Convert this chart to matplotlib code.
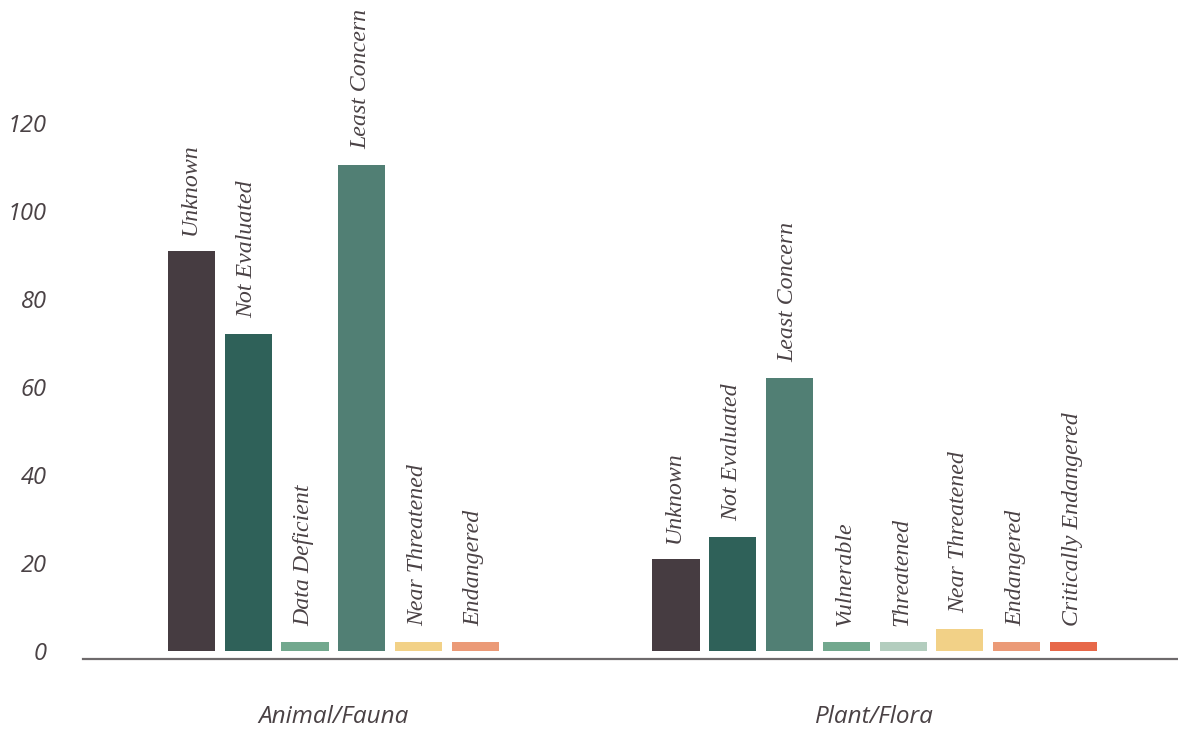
import matplotlib

matplotlib.use("Agg")
import matplotlib.pyplot as plt

# data
groups = ["Animal/Fauna", "Plant/Flora"]
animal_labels = ["Unknown", "Not Evaluated", "Data Deficient", "Least Concern",
                 "Near Threatened", "Endangered"]
animal_values = [91, 72, 2, 110.5, 2, 2]
plant_labels = ["Unknown", "Not Evaluated", "Least Concern", "Vulnerable",
                "Threatened", "Near Threatened", "Endangered", "Critically Endangered"]
plant_values = [21, 26, 62, 2, 2, 5, 2, 2]
yticks = [0, 20, 40, 60, 80, 100, 120]

colors = {
    "Unknown": "#463c41",
    "Not Evaluated": "#2f6159",
    "Least Concern": "#517f74",
    "Data Deficient": "#72a88e",
    "Vulnerable": "#72a88e",
    "Threatened": "#b3cdbe",
    "Near Threatened": "#f2d187",
    "Endangered": "#eb9a77",
    "Critically Endangered": "#e76849",
}

text_color = "#4a4245"
sans = ["Open Sans", "DejaVu Sans"]
serif = ["Liberation Serif", "DejaVu Serif"]

W, H = 1178, 729
fig = plt.figure(figsize=(W / 100, H / 100), dpi=100)
# axes box in pixels: left 83, right 1178, bottom 659, top 101
ax = fig.add_axes([83 / W, (H - 659) / H, (W - 83) / W, (659 - 101) / H])

group_centers = [0.0, 9.53]
bar_w = 0.83

for center, labels, values in [
    (group_centers[0], animal_labels, animal_values),
    (group_centers[1], plant_labels, plant_values),
]:
    n = len(labels)
    xs = [center + (i - (n - 1) / 2) for i in range(n)]
    ax.bar(xs, values, width=bar_w, color=[colors[l] for l in labels], zorder=2)
    for x, v, lab in zip(xs, values, labels):
        ax.annotate(lab, (x, v), xytext=(-1, 11.5), textcoords="offset points",
                    rotation=90, ha="center", va="bottom", fontsize=17.2,
                    style="italic", family=serif, color=text_color,
                    annotation_clip=False)

ax.set_xlim(-4.41, 14.87)
ax.set_ylim(-1.82, 125)

ax.set_yticks(yticks)
ax.set_yticklabels([str(t) for t in yticks], fontsize=17, style="italic",
                   family=sans, color=text_color)
ax.tick_params(axis="y", length=0, pad=26)

ax.set_xticks(group_centers)
ax.set_xticklabels(groups, fontsize=17.5, style="italic", family=sans,
                   color=text_color)
ax.tick_params(axis="x", length=0, pad=33)

for s in ["top", "right", "left"]:
    ax.spines[s].set_visible(False)
ax.spines["bottom"].set_color("#6e6a6c")
ax.spines["bottom"].set_linewidth(1.6)

fig.savefig("out.png", dpi=100)
